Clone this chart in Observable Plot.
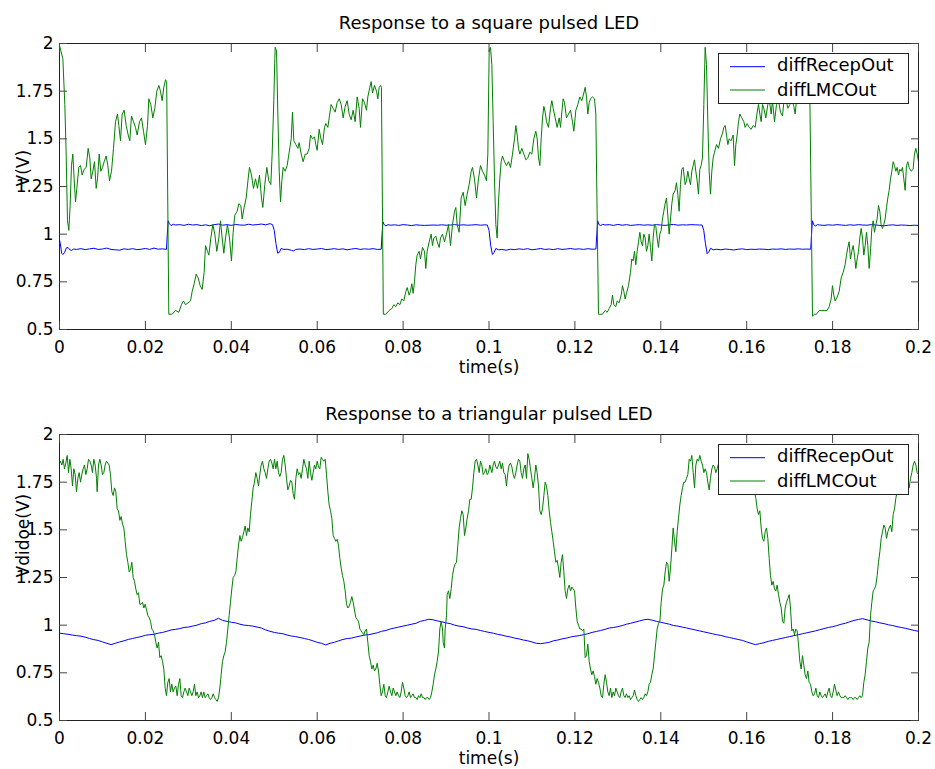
<!DOCTYPE html>
<html>
<head>
<meta charset="utf-8">
<script src="https://cdn.jsdelivr.net/npm/d3@7"></script>
<script src="https://cdn.jsdelivr.net/npm/@observablehq/plot@0.6"></script>
<style>
  body { margin: 0; background: #fff; }
  #fig { position: relative; width: 935px; height: 769px; background: #fff; font-family: "DejaVu Sans", sans-serif; }
  .panel { position: absolute; left: 0; }
  .legend { position: absolute; background: #fff; border: 1px solid #222; box-sizing: border-box; }
  .legend svg { display: block; }
</style>
</head>
<body>
<div id="fig"></div>
<script>
// Axis ticks
const xTicks = [0, 0.02, 0.04, 0.06, 0.08, 0.1, 0.12, 0.14, 0.16, 0.18, 0.2];
const yTicks = [0.5, 0.75, 1, 1.25, 1.5, 1.75, 2];

// Series names (legend order)
const seriesNames = ["diffRecepOut", "diffLMCOut"];

// Panel texts
const titles = ["Response to a square pulsed LED", "Response to a triangular pulsed LED"];
const yLabels = ["V(V)", "Vdidoe(V)"];
const xLabel = "time(s)";

// Square pulsed LED: [time in ms, volts]
const squareRecep = [
  [0,0.97],[0.2,0.95],[0.5,0.90],[0.8,0.893],[1.2,0.905],[1.6,0.928],[2,0.93],[2.4,0.918],[2.8,0.915],[3.3,0.922],[4,0.92],[5,0.924],[6,0.919],[7,0.923],[8,0.926],[9,0.92],[10,0.922],[11,0.927],[12,0.92],[13,0.918],[14,0.916],[15,0.923],[16,0.92],[17,0.924],[18,0.919],[19,0.921],[20,0.925],[21,0.92],[22,0.927],[23,0.921],[24,0.923],[24.9,0.92],
  [25.1,1.00],[25.3,1.07],[25.6,1.055],[26,1.045],[26.5,1.052],[27,1.048],[28,1.05],[29,1.046],[30,1.052],[31,1.048],[32,1.05],[33,1.045],[34,1.049],[35,1.044],[36,1.05],[37,1.053],[38,1.047],[39,1.05],[40,1.046],[41,1.051],[42,1.048],[43,1.047],[44,1.052],[45,1.048],[46,1.05],[47,1.053],[48,1.049],[49,1.055],[49.6,1.05],
  [50,1.02],[50.4,0.95],[50.8,0.90],[51.2,0.905],[51.6,0.925],[52.2,0.92],[53,0.921],[54,0.915],[54.5,0.912],[55,0.92],[56,0.922],[57,0.919],[58,0.924],[59,0.92],[60,0.922],[61,0.925],[62,0.919],[63,0.921],[64,0.924],[65,0.92],[66,0.923],[67,0.918],[68,0.922],[69,0.925],[70,0.92],[71,0.923],[72,0.921],[73,0.924],[74,0.92],[74.9,0.921],
  [75.1,1.00],[75.3,1.065],[75.6,1.05],[76,1.043],[76.5,1.05],[77,1.047],[78,1.049],[79,1.046],[80,1.05],[81,1.048],[82,1.045],[83,1.049],[84,1.047],[85,1.046],[86,1.047],[87,1.048],[88,1.047],[89,1.049],[90,1.047],[91,1.048],[92,1.05],[93,1.047],[94,1.049],[95,1.047],[96,1.048],[97,1.05],[98,1.047],[99,1.049],[99.6,1.048],
  [100,1.02],[100.4,0.94],[100.8,0.893],[101.2,0.905],[101.6,0.925],[102.2,0.918],[103,0.92],[104,0.916],[105,0.921],[106,0.919],[107,0.923],[108,0.92],[109,0.924],[110,0.918],[111,0.921],[112,0.925],[113,0.92],[114,0.922],[115,0.919],[116,0.924],[117,0.92],[118,0.922],[119,0.925],[120,0.921],[121,0.923],[122,0.92],[123,0.924],[124,0.921],[124.9,0.922],
  [125.1,1.00],[125.3,1.07],[125.6,1.05],[126,1.045],[126.5,1.052],[127,1.048],[128,1.05],[129,1.046],[130,1.051],[131,1.047],[132,1.05],[133,1.046],[134,1.048],[135,1.05],[136,1.047],[137,1.049],[138,1.047],[139,1.05],[140,1.048],[141,1.046],[142,1.049],[143,1.051],[144,1.047],[145,1.049],[146,1.048],[147,1.05],[148,1.049],[149,1.048],[149.6,1.048],
  [150,1.02],[150.4,0.95],[150.8,0.898],[151.2,0.908],[151.6,0.926],[152.2,0.918],[153,0.921],[154,0.918],[155,0.922],[156,0.92],[157,0.917],[158,0.921],[159,0.923],[160,0.919],[161,0.921],[162,0.92],[163,0.922],[164,0.921],[165,0.919],[166,0.922],[167,0.921],[168,0.923],[169,0.92],[170,0.922],[171,0.921],[172,0.923],[173,0.921],[174,0.922],[174.9,0.921],
  [175.1,1.00],[175.3,1.07],[175.6,1.05],[176,1.043],[176.5,1.05],[177,1.048],[178,1.046],[179,1.049],[180,1.047],[181,1.05],[182,1.048],[183,1.046],[184,1.049],[185,1.047],[186,1.05],[187,1.048],[188,1.047],[189,1.05],[190,1.048],[191,1.046],[192,1.044],[193,1.047],[194,1.049],[195,1.046],[196,1.048],[197,1.047],[198,1.045],[199,1.047],[200,1.046]
];

const squareLmc = [
  [0,1.99],[0.78,1.92],[1.24,1.68],[1.55,1.42],[1.86,1.07],[2.17,1.02],[2.48,1.15],[2.79,1.36],[3.10,1.42],[3.41,1.29],[3.73,1.17],[4.04,1.24],[4.50,1.35],[4.89,1.36],[5.28,1.31],[5.74,1.34],[6.21,1.35],[6.67,1.45],[7.06,1.40],[7.37,1.29],[7.76,1.33],[8.15,1.38],[8.54,1.24],[8.85,1.29],[9.24,1.42],[9.62,1.33],[10.01,1.35],[10.40,1.38],[10.86,1.41],[11.25,1.36],[11.64,1.28],[12.11,1.33],[12.57,1.45],[13.04,1.59],[13.50,1.63],[13.81,1.57],[14.20,1.49],[14.59,1.63],[15.05,1.65],[15.52,1.57],[15.99,1.52],[16.37,1.49],[16.76,1.62],[17.23,1.59],[17.69,1.56],[18.08,1.52],[18.63,1.59],[19.09,1.61],[19.56,1.54],[20.02,1.47],[20.49,1.57],[20.80,1.71],[21.26,1.68],[21.73,1.61],[22.19,1.66],[22.66,1.75],[23.13,1.78],[23.51,1.75],[23.90,1.70],[24.29,1.77],[24.68,1.81],[24.95,1.80],
  [25.45,0.58],[26.23,0.58],[27.00,0.60],[27.78,0.59],[28.40,0.63],[28.87,0.65],[29.33,0.63],[29.95,0.64],[30.50,0.65],[30.89,0.70],[31.35,0.74],[31.82,0.79],[32.28,0.77],[32.75,0.73],[33.21,0.71],[33.68,0.80],[33.99,0.94],[34.45,0.91],[34.77,0.89],[35.23,0.98],[35.70,1.05],[36.16,1.00],[36.63,0.91],[37.09,0.98],[37.48,1.07],[37.87,0.98],[38.26,0.90],[38.65,0.98],[39.11,1.05],[39.58,0.98],[40.04,0.86],[40.43,1.01],[40.82,1.10],[41.36,1.12],[41.75,1.16],[42.22,1.15],[42.53,1.08],[42.99,1.14],[43.46,1.19],[43.92,1.29],[44.23,1.35],[44.70,1.31],[45.16,1.24],[45.63,1.29],[46.10,1.24],[46.56,1.31],[47.03,1.19],[47.34,1.14],[47.80,1.26],[48.27,1.35],[48.73,1.28],[49.20,1.26],[49.51,1.42],[49.90,1.70],[50.13,1.92],
  [50.22,1.98],[50.53,1.96],[50.84,1.63],[51.15,1.33],[51.46,1.17],[51.77,1.28],[52.08,1.35],[52.54,1.33],[53.01,1.36],[53.48,1.43],[53.94,1.50],[54.25,1.64],[54.56,1.49],[55.03,1.47],[55.49,1.45],[55.80,1.48],[56.27,1.42],[56.73,1.38],[57.20,1.42],[57.67,1.42],[58.13,1.45],[58.44,1.52],[58.91,1.50],[59.37,1.51],[59.68,1.47],[59.99,1.44],[60.46,1.55],[60.77,1.51],[61.24,1.47],[61.70,1.56],[62.01,1.58],[62.48,1.56],[62.79,1.61],[63.25,1.68],[63.72,1.66],[64.18,1.64],[64.65,1.69],[65.12,1.71],[65.58,1.68],[66.05,1.61],[66.51,1.67],[66.98,1.70],[67.44,1.63],[67.91,1.60],[68.37,1.65],[68.84,1.59],[69.31,1.72],[69.77,1.66],[70.08,1.56],[70.55,1.71],[71.01,1.69],[71.48,1.65],[71.79,1.72],[72.25,1.77],[72.57,1.80],[72.88,1.74],[73.34,1.78],[73.81,1.75],[74.12,1.71],[74.43,1.77],[74.74,1.78],[74.95,1.77],
  [75.40,0.58],[75.98,0.58],[76.76,0.60],[77.38,0.61],[77.84,0.63],[78.31,0.62],[78.77,0.64],[79.24,0.63],[79.70,0.66],[80.17,0.65],[80.64,0.70],[80.95,0.72],[81.41,0.68],[81.72,0.70],[82.03,0.74],[82.34,0.69],[82.65,0.75],[82.96,0.84],[83.27,0.89],[83.74,0.91],[84.05,0.87],[84.52,0.93],[84.98,0.91],[85.29,0.82],[85.60,0.91],[86.07,0.96],[86.53,1.00],[86.84,0.94],[87.15,0.98],[87.62,0.99],[87.93,0.96],[88.40,0.93],[88.71,0.98],[89.17,1.00],[89.64,0.96],[90.10,1.00],[90.57,1.05],[91.03,0.94],[91.50,1.05],[91.97,1.12],[92.28,1.14],[92.59,1.05],[93.05,1.01],[93.52,1.19],[93.98,1.22],[94.45,1.15],[94.91,1.21],[95.38,1.26],[95.85,1.33],[96.16,1.35],[96.62,1.29],[97.09,1.19],[97.55,1.29],[98.02,1.36],[98.48,1.33],[98.95,1.31],[99.41,1.28],[99.73,1.42],
  [100.04,1.96],[100.35,1.98],[100.66,1.89],[100.97,1.59],[101.28,1.29],[101.59,1.05],[101.90,0.98],[102.21,1.17],[102.52,1.29],[102.83,1.38],[103.14,1.41],[103.61,1.38],[104.08,1.36],[104.54,1.38],[105.01,1.35],[105.47,1.42],[105.94,1.50],[106.25,1.57],[106.56,1.52],[106.87,1.45],[107.18,1.42],[107.65,1.45],[108.11,1.42],[108.58,1.39],[109.04,1.40],[109.51,1.43],[109.97,1.42],[110.44,1.50],[110.90,1.54],[111.22,1.50],[111.53,1.40],[111.84,1.36],[112.15,1.50],[112.46,1.61],[112.77,1.67],[113.08,1.64],[113.39,1.59],[113.85,1.56],[114.32,1.66],[114.63,1.70],[114.94,1.66],[115.41,1.61],[115.87,1.56],[116.34,1.61],[116.65,1.56],[116.96,1.64],[117.27,1.71],[117.58,1.69],[118.04,1.61],[118.51,1.63],[118.98,1.65],[119.44,1.59],[119.75,1.54],[120.22,1.65],[120.68,1.68],[121.15,1.72],[121.61,1.70],[122.08,1.74],[122.39,1.77],[122.70,1.72],[123.01,1.63],[123.32,1.69],[123.63,1.71],[124.10,1.72],[124.56,1.71],[124.87,1.63],
  [125.49,0.58],[125.80,0.58],[126.42,0.58],[127.05,0.60],[127.51,0.59],[127.98,0.61],[128.44,0.63],[128.75,0.68],[129.06,0.63],[129.53,0.62],[129.84,0.65],[130.30,0.64],[130.77,0.68],[131.08,0.73],[131.39,0.70],[131.70,0.66],[132.01,0.69],[132.48,0.73],[132.94,0.80],[133.25,0.87],[133.56,0.86],[133.87,0.91],[134.18,0.84],[134.50,0.91],[134.81,0.96],[135.12,1.01],[135.43,0.96],[135.74,0.94],[136.05,1.00],[136.36,0.98],[136.67,0.91],[136.98,0.94],[137.29,1.00],[137.60,0.93],[137.91,0.86],[138.22,0.98],[138.53,1.05],[138.84,1.04],[139.15,0.98],[139.46,0.93],[139.77,1.00],[140.08,1.02],[140.39,1.08],[140.70,1.12],[141.01,1.16],[141.32,1.19],[141.63,1.10],[141.94,1.00],[142.26,1.08],[142.57,1.16],[142.88,1.21],[143.34,1.23],[143.65,1.27],[143.96,1.21],[144.27,1.12],[144.58,1.26],[144.89,1.34],[145.20,1.35],[145.67,1.26],[145.98,1.28],[146.29,1.33],[146.60,1.29],[146.91,1.26],[147.22,1.33],[147.53,1.36],[147.84,1.39],[148.15,1.33],[148.46,1.28],[148.77,1.21],[149.08,1.34],[149.39,1.36],[149.70,1.40],[150.02,1.68],[150.33,1.98],
  [150.64,1.89],[150.95,1.59],[151.26,1.33],[151.57,1.21],[151.88,1.33],[152.19,1.40],[152.50,1.43],[152.97,1.47],[153.43,1.45],[153.90,1.50],[154.37,1.53],[154.68,1.56],[154.99,1.57],[155.30,1.52],[155.61,1.47],[155.92,1.50],[156.38,1.49],[156.85,1.52],[157.16,1.36],[157.47,1.47],[157.78,1.52],[158.09,1.59],[158.40,1.63],[158.87,1.61],[159.33,1.59],[159.64,1.56],[160.11,1.58],[160.57,1.56],[161.04,1.55],[161.51,1.57],[161.97,1.56],[162.44,1.64],[162.75,1.68],[163.06,1.63],[163.37,1.59],[163.68,1.68],[163.99,1.66],[164.45,1.61],[164.92,1.68],[165.23,1.71],[165.70,1.63],[166.01,1.70],[166.47,1.59],[166.94,1.68],[167.40,1.70],[167.87,1.64],[168.33,1.62],[168.64,1.69],[169.11,1.71],[169.58,1.66],[170.04,1.68],[170.51,1.71],[170.97,1.67],[171.28,1.63],[171.59,1.70],[172.06,1.73],[172.52,1.75],[172.99,1.72],[173.46,1.77],[173.92,1.74],[174.39,1.73],[174.70,1.73],
  [175.32,0.57],[175.78,0.58],[176.25,0.58],[176.87,0.60],[177.49,0.60],[178.11,0.60],[178.73,0.60],[179.20,0.62],[179.66,0.66],[179.97,0.73],[180.28,0.68],[180.59,0.65],[181.06,0.67],[181.53,0.70],[181.99,0.77],[182.46,0.80],[182.92,0.84],[183.23,0.89],[183.54,0.93],[183.85,0.96],[184.16,0.87],[184.47,0.91],[184.79,0.94],[185.10,0.89],[185.41,0.82],[185.72,0.87],[186.03,0.91],[186.34,0.98],[186.65,1.03],[186.96,0.98],[187.27,0.89],[187.58,0.94],[187.89,1.01],[188.20,0.94],[188.51,0.82],[188.82,0.91],[189.13,1.03],[189.44,1.07],[189.75,1.01],[190.06,1.05],[190.37,1.08],[190.68,1.15],[190.99,1.12],[191.30,1.05],[191.61,1.03],[191.92,1.05],[192.23,1.08],[192.55,1.14],[192.86,1.19],[193.17,1.23],[193.48,1.29],[193.79,1.33],[194.10,1.38],[194.41,1.36],[194.72,1.33],[195.03,1.35],[195.34,1.31],[195.65,1.34],[195.96,1.33],[196.27,1.35],[196.58,1.29],[196.89,1.23],[197.20,1.36],[197.51,1.38],[197.82,1.35],[198.29,1.33],[198.75,1.34],[199.06,1.42],[199.38,1.45],[199.69,1.42],[200,1.38]
];

// Triangular pulsed LED: receptor output sampled every 1 ms
const triRecepStepMs = 1;
const triRecep = [
  0.958,0.955,0.952,0.948,0.945,0.942,0.937,0.930,0.924,0.920,0.912,0.905,0.898,0.905,0.912,0.918,0.925,0.930,0.935,0.940,
  0.947,0.950,0.952,0.958,0.962,0.968,0.975,0.978,0.982,0.988,0.990,0.995,1.000,1.008,1.012,1.020,1.025,1.036,1.025,1.020,
  1.015,1.012,1.005,1.000,0.998,0.995,0.990,0.985,0.975,0.968,0.962,0.958,0.955,0.948,0.943,0.940,0.935,0.930,0.925,0.918,
  0.910,0.905,0.896,0.905,0.910,0.918,0.925,0.930,0.932,0.938,0.943,0.948,0.950,0.955,0.960,0.968,0.972,0.980,0.985,0.990,
  0.995,1.000,1.005,1.010,1.020,1.025,1.031,1.028,1.022,1.018,1.012,1.008,1.000,0.995,0.992,0.985,0.980,0.978,0.972,0.967,
  0.962,0.958,0.952,0.948,0.942,0.938,0.932,0.928,0.922,0.918,0.912,0.905,0.903,0.906,0.910,0.918,0.922,0.928,0.932,0.938,
  0.942,0.945,0.950,0.955,0.962,0.967,0.972,0.978,0.985,0.988,0.992,0.998,1.005,1.010,1.016,1.022,1.028,1.031,1.026,1.020,
  1.015,1.010,1.005,0.998,0.995,0.990,0.985,0.980,0.975,0.970,0.965,0.960,0.955,0.950,0.946,0.940,0.935,0.930,0.925,0.920,
  0.912,0.905,0.898,0.903,0.908,0.915,0.920,0.925,0.930,0.935,0.940,0.945,0.950,0.955,0.960,0.965,0.970,0.976,0.982,0.988,
  0.992,0.998,1.005,1.010,1.018,1.025,1.030,1.034,1.028,1.022,1.018,1.012,1.008,1.002,0.998,0.992,0.988,0.983,0.978,0.972,
  0.968
];

// Triangular pulsed LED: LMC output [time in ms, volts]
const triLmc = [
  [0,1.85],[0.23,1.86],[0.54,1.84],[0.85,1.87],[1.16,1.82],[1.47,1.85],[1.79,1.89],[2.10,1.80],[2.41,1.87],[2.72,1.82],[3.03,1.73],[3.34,1.82],[3.65,1.79],[3.96,1.70],[4.27,1.77],[4.58,1.80],[4.89,1.75],[5.20,1.79],[5.51,1.82],[5.82,1.84],[6.13,1.79],[6.44,1.82],[6.75,1.87],[7.06,1.86],[7.37,1.84],[7.68,1.80],[7.99,1.87],[8.30,1.84],[8.62,1.77],[8.77,1.70],[9.08,1.84],[9.39,1.87],[9.70,1.84],[10.01,1.79],[10.32,1.80],[10.63,1.84],[10.94,1.86],[11.25,1.85],[11.56,1.84],[11.87,1.79],[12.18,1.70],[12.49,1.68],[12.81,1.72],[13.12,1.70],[13.43,1.61],[13.74,1.60],[14.05,1.55],[14.36,1.57],[14.67,1.53],[14.98,1.51],[15.29,1.44],[15.60,1.37],[15.91,1.33],[16.22,1.28],[16.53,1.29],[16.84,1.33],[17.15,1.25],[17.46,1.23],[17.77,1.19],[18.08,1.16],[18.39,1.17],[18.70,1.11],[19.01,1.11],[19.33,1.12],[19.64,1.09],[19.95,1.11],[20.26,1.08],[20.57,1.05],[20.88,1.04],[21.19,1.02],[21.50,0.98],[21.81,0.97],[22.12,0.95],[22.43,0.91],[22.74,0.88],[23.05,0.91],[23.36,0.83],[23.67,0.84],[23.98,0.81],[24.29,0.77],[24.60,0.67],[24.91,0.63],[25.22,0.70],[25.53,0.72],[25.84,0.65],[26.15,0.69],[26.46,0.65],[26.77,0.67],[27.09,0.68],[27.40,0.63],[27.71,0.69],[28.02,0.72],[28.33,0.63],[28.64,0.62],[28.95,0.65],[29.26,0.67],[29.57,0.65],[29.88,0.63],[30.19,0.67],[30.50,0.65],[30.81,0.63],[31.12,0.65],[31.43,0.69],[31.74,0.63],[32.05,0.65],[32.36,0.62],[32.67,0.63],[32.98,0.65],[33.29,0.62],[33.60,0.65],[33.92,0.62],[34.23,0.63],[34.54,0.64],[34.85,0.62],[35.16,0.61],[35.47,0.62],[35.78,0.64],[36.09,0.62],[36.40,0.61],[36.71,0.60],[37.02,0.62],[37.33,0.67],[37.64,0.74],[37.95,0.81],[38.26,0.84],[38.57,0.86],[38.88,0.91],[39.19,0.98],[39.50,1.05],[39.81,1.12],[40.12,1.19],[40.43,1.25],[40.75,1.26],[41.06,1.28],[41.37,1.35],[41.68,1.42],[41.99,1.47],[42.30,1.44],[42.61,1.46],[42.92,1.49],[43.23,1.52],[43.54,1.47],[43.85,1.51],[44.16,1.49],[44.47,1.58],[44.78,1.65],[45.09,1.72],[45.40,1.75],[45.71,1.80],[46.02,1.77],[46.33,1.73],[46.64,1.79],[46.95,1.84],[47.26,1.86],[47.58,1.82],[47.89,1.80],[48.20,1.77],[48.51,1.82],[48.82,1.86],[49.13,1.87],[49.44,1.85],[49.75,1.82],
  [50.06,1.87],[50.37,1.82],[50.68,1.86],[50.99,1.80],[51.30,1.78],[51.61,1.80],[51.92,1.87],[52.23,1.89],[52.54,1.84],[52.85,1.77],[53.16,1.71],[53.47,1.73],[53.78,1.76],[54.09,1.75],[54.40,1.69],[54.71,1.66],[55.03,1.77],[55.34,1.82],[55.65,1.79],[55.96,1.80],[56.27,1.77],[56.58,1.82],[56.89,1.87],[57.20,1.84],[57.51,1.82],[57.82,1.77],[58.13,1.86],[58.44,1.80],[58.75,1.76],[59.06,1.80],[59.37,1.84],[59.68,1.82],[59.99,1.86],[60.30,1.83],[60.61,1.82],[60.92,1.88],[61.23,1.87],[61.54,1.86],[61.86,1.87],[62.17,1.79],[62.48,1.70],[62.79,1.63],[63.10,1.60],[63.41,1.56],[63.72,1.47],[64.03,1.455],[64.34,1.44],[64.65,1.45],[64.96,1.42],[65.27,1.35],[65.58,1.30],[65.89,1.26],[66.20,1.23],[66.51,1.18],[66.82,1.11],[67.13,1.09],[67.44,1.10],[67.75,1.12],[68.06,1.15],[68.37,1.12],[68.68,1.08],[68.99,1.04],[69.31,1.03],[69.62,1.02],[69.93,0.98],[70.24,0.97],[70.55,0.96],[70.86,0.95],[71.17,0.97],[71.48,0.98],[71.79,0.91],[72.10,0.84],[72.41,0.81],[72.72,0.77],[73.03,0.79],[73.34,0.76],[73.65,0.77],[73.96,0.80],[74.27,0.76],[74.58,0.69],[74.89,0.63],[75.20,0.65],[75.52,0.69],[75.83,0.63],[76.14,0.62],[76.45,0.65],[76.76,0.68],[77.07,0.65],[77.38,0.63],[77.69,0.67],[78.00,0.65],[78.31,0.63],[78.62,0.65],[78.93,0.63],[79.24,0.62],[79.55,0.65],[79.86,0.70],[80.17,0.67],[80.48,0.63],[80.79,0.62],[81.10,0.63],[81.41,0.65],[81.72,0.62],[82.03,0.63],[82.34,0.64],[82.65,0.62],[82.96,0.62],[83.28,0.61],[83.59,0.63],[83.90,0.62],[84.21,0.64],[84.52,0.62],[84.83,0.62],[85.14,0.61],[85.45,0.62],[85.76,0.62],[86.07,0.61],[86.38,0.62],[86.69,0.65],[87.00,0.69],[87.31,0.74],[87.62,0.77],[87.93,0.81],[88.24,0.86],[88.55,0.98],[88.86,1.02],[89.18,0.98],[89.33,0.91],[89.64,0.88],[89.79,0.98],[90.11,1.05],[90.26,1.16],[90.57,1.18],[90.88,1.14],[91.19,1.19],[91.50,1.26],[91.81,1.30],[92.12,1.32],[92.43,1.33],[92.74,1.42],[93.05,1.51],[93.36,1.56],[93.67,1.60],[93.99,1.58],[94.30,1.47],[94.61,1.51],[94.92,1.56],[95.23,1.60],[95.54,1.66],[95.85,1.66],[96.16,1.72],[96.47,1.80],[96.78,1.86],[97.09,1.87],[97.40,1.84],[97.71,1.80],[98.02,1.86],[98.33,1.84],[98.64,1.79],[98.95,1.80],[99.26,1.82],[99.57,1.79],[99.88,1.80],[100.19,1.84],
  [100.66,1.80],[100.97,1.84],[101.28,1.86],[101.59,1.83],[101.90,1.82],[102.21,1.84],[102.52,1.86],[102.83,1.82],[103.14,1.85],[103.45,1.80],[103.76,1.79],[104.07,1.73],[104.39,1.80],[104.70,1.84],[105.01,1.85],[105.32,1.83],[105.63,1.79],[105.94,1.77],[106.25,1.80],[106.56,1.84],[106.87,1.87],[107.18,1.86],[107.49,1.80],[107.80,1.77],[108.11,1.82],[108.42,1.84],[108.73,1.77],[109.04,1.90],[109.35,1.87],[109.66,1.82],[109.97,1.77],[110.28,1.72],[110.59,1.77],[110.90,1.84],[111.21,1.80],[111.53,1.73],[111.84,1.60],[112.15,1.58],[112.46,1.61],[112.77,1.68],[113.08,1.75],[113.39,1.73],[113.70,1.68],[114.01,1.60],[114.32,1.54],[114.63,1.49],[114.94,1.44],[115.25,1.385],[115.56,1.33],[115.87,1.34],[116.18,1.30],[116.49,1.25],[116.80,1.33],[117.11,1.37],[117.42,1.28],[117.73,1.18],[118.04,1.14],[118.35,1.19],[118.67,1.21],[118.98,1.18],[119.29,1.20],[119.60,1.19],[119.91,1.18],[120.22,1.09],[120.53,1.02],[120.84,1.00],[121.15,0.98],[121.46,0.98],[121.77,0.97],[122.08,0.98],[122.39,0.83],[122.70,0.84],[123.01,0.90],[123.32,0.81],[123.63,0.77],[123.94,0.74],[124.25,0.76],[124.56,0.73],[124.87,0.69],[125.18,0.72],[125.49,0.70],[125.81,0.67],[126.12,0.63],[126.43,0.62],[126.74,0.69],[127.05,0.74],[127.36,0.70],[127.67,0.65],[127.98,0.63],[128.29,0.67],[128.60,0.62],[128.91,0.65],[129.22,0.63],[129.53,0.67],[129.84,0.65],[130.15,0.63],[130.46,0.62],[130.77,0.65],[131.08,0.67],[131.39,0.63],[131.70,0.62],[132.01,0.64],[132.33,0.62],[132.64,0.63],[132.95,0.61],[133.26,0.62],[133.57,0.63],[133.88,0.66],[134.19,0.63],[134.50,0.61],[134.81,0.60],[135.12,0.61],[135.43,0.62],[135.74,0.61],[136.05,0.62],[136.36,0.64],[136.67,0.63],[136.98,0.65],[137.29,0.69],[137.60,0.70],[137.91,0.74],[138.22,0.77],[138.53,0.84],[138.84,0.91],[139.15,0.98],[139.47,1.01],[139.78,1.02],[140.09,1.12],[140.40,1.19],[140.71,1.21],[141.02,1.28],[141.33,1.33],[141.64,1.32],[141.95,1.23],[142.26,1.30],[142.57,1.40],[142.88,1.51],[143.19,1.44],[143.50,1.385],[143.81,1.49],[144.12,1.56],[144.43,1.63],[144.74,1.68],[145.05,1.72],[145.36,1.75],[145.67,1.75],[145.98,1.77],[146.29,1.79],[146.61,1.87],[146.92,1.86],[147.23,1.89],[147.54,1.80],[147.85,1.72],[148.16,1.84],[148.47,1.87],[148.78,1.86],[149.09,1.89],[149.40,1.86],[149.71,1.84],[150.02,1.80],[150.33,1.82],[150.64,1.80],[150.95,1.75],
  [151.26,1.71],[151.57,1.77],[151.88,1.82],[152.19,1.84],[152.50,1.83],[152.81,1.80],[153.12,1.82],[153.59,1.86],[154.06,1.80],[154.52,1.85],[154.99,1.88],[155.45,1.83],[155.92,1.79],[156.38,1.84],[156.85,1.87],[157.32,1.82],[157.78,1.85],[158.25,1.80],[158.71,1.86],[159.18,1.83],[159.64,1.78],[160.11,1.82],[160.58,1.76],[161.04,1.80],[161.51,1.74],[161.82,1.70],[162.13,1.665],[162.44,1.61],[162.75,1.58],[163.06,1.60],[163.37,1.51],[163.68,1.455],[163.99,1.44],[164.30,1.49],[164.61,1.51],[164.92,1.455],[165.23,1.35],[165.54,1.26],[165.85,1.21],[166.16,1.23],[166.47,1.19],[166.78,1.18],[167.09,1.21],[167.41,1.16],[167.72,1.12],[168.03,1.09],[168.34,1.02],[168.65,1.01],[168.96,1.09],[169.27,1.12],[169.58,1.14],[169.89,1.16],[170.20,1.09],[170.51,0.97],[170.82,0.98],[171.13,0.95],[171.44,0.98],[171.75,0.97],[172.06,0.90],[172.37,0.81],[172.68,0.77],[172.99,0.84],[173.30,0.79],[173.61,0.74],[173.92,0.72],[174.23,0.76],[174.54,0.70],[174.86,0.69],[175.17,0.65],[175.48,0.63],[175.79,0.64],[176.10,0.67],[176.41,0.63],[176.72,0.62],[177.03,0.65],[177.34,0.63],[177.65,0.62],[177.96,0.63],[178.27,0.64],[178.58,0.62],[178.89,0.65],[179.20,0.67],[179.51,0.63],[179.82,0.62],[180.13,0.65],[180.44,0.69],[180.75,0.66],[181.06,0.63],[181.38,0.65],[181.69,0.63],[182.00,0.62],[182.31,0.62],[182.62,0.62],[182.93,0.63],[183.24,0.62],[183.55,0.61],[183.86,0.62],[184.17,0.62],[184.48,0.62],[184.79,0.61],[185.10,0.62],[185.41,0.62],[185.72,0.61],[186.03,0.62],[186.34,0.63],[186.65,0.62],[186.96,0.63],[187.27,0.70],[187.58,0.74],[187.89,0.81],[188.20,0.88],[188.51,0.91],[188.82,1.05],[189.14,1.12],[189.45,1.18],[189.76,1.19],[190.07,1.21],[190.38,1.26],[190.69,1.33],[191.00,1.385],[191.31,1.455],[191.62,1.49],[191.93,1.525],[192.24,1.51],[192.55,1.455],[192.86,1.49],[193.17,1.51],[193.48,1.525],[193.79,1.49],[194.10,1.58],[194.41,1.61],[194.72,1.665],[195.03,1.70],[195.34,1.735],[195.65,1.75],[195.96,1.77],[196.28,1.77],[196.59,1.79],[196.90,1.80],[197.21,1.79],[197.52,1.75],[197.83,1.72],[198.14,1.77],[198.45,1.80],[198.76,1.84],[199.07,1.86],[199.38,1.84],[199.69,1.80],[200,1.79]
];

// ---- drawing ----
const RECEP_COLOR = "#0000ff";
const LMC_COLOR = "#008000";
const FONT = "'DejaVu Sans', sans-serif";

const fromPairs = pairs => pairs.map(([ms, v]) => ({t: ms / 1000, v}));
const fromSamples = (vals, stepMs) => vals.map((v, i) => ({t: (i * stepMs) / 1000, v}));

const fig = document.getElementById("fig");

function panel({top, height, marginTop, marginBottom, title, titleDy, ylabel, recep, lmc}) {
  const chart = Plot.plot({
    width: 935,
    height,
    marginLeft: 59,
    marginRight: 17,
    marginTop,
    marginBottom,
    style: {fontFamily: FONT, fontSize: "17px", color: "#000", background: "transparent", overflow: "visible"},
    x: {domain: [0, 0.2]},
    y: {domain: [0.5, 2]},
    marks: [
      Plot.line(recep, {x: "t", y: "v", stroke: RECEP_COLOR, strokeWidth: 1, clip: true}),
      Plot.line(lmc, {x: "t", y: "v", stroke: LMC_COLOR, strokeWidth: 1, clip: true}),
      Plot.frame({stroke: "#222"}),
      // MATLAB-style inward ticks on all four sides
      Plot.axisX(xTicks, {anchor: "bottom", tickSize: -8, tickPadding: 19, tickFormat: d => String(d), label: null, stroke: "#444"}),
      Plot.axisX(xTicks, {anchor: "top", tickSize: -8, tickFormat: () => "", label: null, stroke: "#444"}),
      Plot.axisY(yTicks, {anchor: "left", tickSize: -8, tickPadding: 14, tickFormat: d => String(d), label: null, stroke: "#444"}),
      Plot.axisY(yTicks, {anchor: "right", tickSize: -8, tickFormat: () => "", label: null, stroke: "#444"}),
      Plot.text([title], {text: d => d, frameAnchor: "top", lineAnchor: "middle", dy: titleDy, fontSize: 18, fill: "#000"}),
      Plot.text([xLabel], {text: d => d, frameAnchor: "bottom", lineAnchor: "middle", dy: 38.5, fontSize: 17, fill: "#000"}),
      Plot.text([ylabel], {text: d => d, frameAnchor: "left", lineAnchor: "middle", rotate: -90, dx: -36, fontSize: 17, fill: "#000"})
    ]
  });
  chart.classList.add("panel");
  chart.style.top = top + "px";
  fig.appendChild(chart);
}

function legend(top) {
  const box = d3.select(fig).append("div")
    .attr("class", "legend")
    .style("left", "718px")
    .style("top", top + "px")
    .style("width", "191px")
    .style("height", "51px");
  const svg = box.append("svg").attr("width", 189).attr("height", 49);
  const colors = [RECEP_COLOR, LMC_COLOR];
  seriesNames.forEach((name, i) => {
    svg.append("line")
      .attr("x1", 11).attr("x2", 46)
      .attr("y1", 12.7 + i * 23.3).attr("y2", 12.7 + i * 23.3)
      .attr("stroke", colors[i]).attr("stroke-width", 1);
    svg.append("text")
      .attr("x", 58).attr("y", 17 + i * 25.3)
      .attr("font-family", FONT).attr("font-size", 18).attr("fill", "#000")
      .text(name);
  });
}

panel({
  top: 0, height: 380, marginTop: 43, marginBottom: 51,
  title: titles[0], titleDy: -20, ylabel: yLabels[0],
  recep: fromPairs(squareRecep), lmc: fromPairs(squareLmc)
});
panel({
  top: 380, height: 389, marginTop: 54, marginBottom: 49,
  title: titles[1], titleDy: -20, ylabel: yLabels[1],
  recep: fromSamples(triRecep, triRecepStepMs), lmc: fromPairs(triLmc)
});
legend(53);
legend(444);
</script>
</body>
</html>
